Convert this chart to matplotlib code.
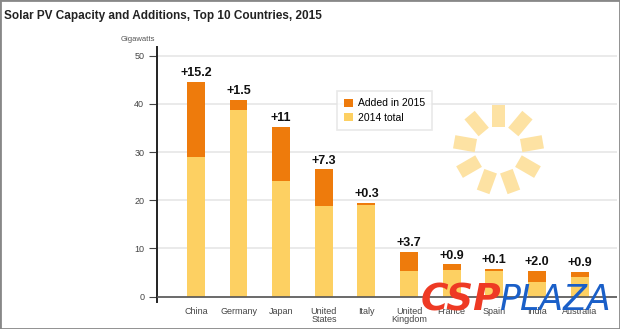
import matplotlib
matplotlib.use("Agg")
import matplotlib.pyplot as plt
from matplotlib.patches import Rectangle
from matplotlib.transforms import Affine2D
import numpy as np

# Data (GW)
countries = ['China', 'Germany', 'Japan', 'United\nStates', 'Italy',
             'United\nKingdom', 'France', 'Spain', 'India', 'Australia']
total_2014 = [28.9, 38.7, 23.9, 18.7, 19.0, 5.3, 5.5, 5.4, 3.0, 4.0]
added_2015 = [15.6, 2.1, 11.4, 7.7, 0.4, 3.9, 1.2, 0.3, 2.3, 1.1]
add_labels = ['+15.2', '+1.5', '+11', '+7.3', '+0.3', '+3.7', '+0.9', '+0.1', '+2.0', '+0.9']

orange = '#EE7B0C'
yellow = '#FDD062'
sans = ['Liberation Sans', 'DejaVu Sans']

fig = plt.figure(figsize=(6.2, 3.29), dpi=100)
ax = fig.add_axes([0.2527, 0.081, 0.742, 0.776])

x = np.arange(len(countries))
ax.bar(x, total_2014, width=0.42, color=yellow, label='2014 total', zorder=3)
ax.bar(x, added_2015, width=0.42, bottom=total_2014, color=orange,
       label='Added in 2015', zorder=3)

for xi, b, a, lab in zip(x, total_2014, added_2015, add_labels):
    ax.annotate(lab, (xi, b + a), xytext=(0, 2), textcoords='offset points',
                ha='center', va='bottom', fontsize=9, fontweight='bold',
                family=sans, color='#111111', zorder=5)

ax.set_xlim(-0.92, 9.87)
ax.set_ylim(-1.2, 51.8)
ax.set_yticks([0, 10, 20, 30, 40, 50])
ax.set_xticks(x)
ax.set_xticklabels(countries, fontsize=6.5, color='#444444', family=sans,
                   linespacing=0.95)
for lab in ax.get_yticklabels():
    lab.set_fontsize(6.5)
    lab.set_color('#444444')
    lab.set_family(sans)
ax.tick_params(axis='x', length=0, pad=3)
ax.tick_params(axis='y', length=6, width=0.8, color='#444444', pad=3)
ax.grid(axis='y', color='#E6E6E6', lw=1.2, zorder=0)
ax.axhline(0, color='#555555', lw=1.2, zorder=4)
for s in ['top', 'right', 'bottom']:
    ax.spines[s].set_visible(False)
ax.spines['left'].set_color('#222222')
ax.spines['left'].set_linewidth(1.4)

h, l = ax.get_legend_handles_labels()
leg = ax.legend(h[::-1], l[::-1], loc='upper left', bbox_to_anchor=(0.392, 0.828),
                frameon=True, fancybox=False, handlelength=0.8,
                handleheight=0.8, borderpad=0.7, labelspacing=0.45,
                handletextpad=0.5, borderaxespad=0,
                prop={'family': sans, 'size': 7.5})
leg.get_frame().set_edgecolor('#E3E3E3')
leg.get_frame().set_linewidth(1.2)

# decorative sun: 9 rays, 40 degrees apart (pixel coordinates)
cx, cy, r = 498.5, 329 - 149.6, 34
for k in range(9):
    ang = np.deg2rad(90 - 40 * k)
    t = Affine2D().rotate_deg(-40 * k).translate(cx + r * np.cos(ang),
                                                  cy + r * np.sin(ang))
    rect = Rectangle((-6.7, -11), 13.4, 22, color='#FDE2A3', lw=0, transform=t)
    fig.patches.append(rect)

fig.text(0.007, 0.952, 'Solar PV Capacity and Additions, Top 10 Countries, 2015',
         fontsize=8.5, fontweight='bold', family=sans, color='#222222',
         va='center', ha='left')
fig.text(0.222, 0.881, 'Gigawatts', fontsize=5.5, family=sans,
         color='#555555', ha='center', va='center')

# watermark
fig.text(0.678, 0.088, 'CSP', fontsize=27, fontweight='heavy', style='italic',
         color='#EE3A24', ha='left', va='center', family='DejaVu Sans')
fig.text(0.805, 0.088, 'PLAZA', fontsize=25, style='italic',
         color='#1A5FC8', ha='left', va='center', family='DejaVu Sans',
         fontweight='light')

fig.patches.append(Rectangle((0, 0), 1, 1, transform=fig.transFigure,
                             fill=False, edgecolor='#888888', lw=2))

fig.savefig('out.png', dpi=100)
